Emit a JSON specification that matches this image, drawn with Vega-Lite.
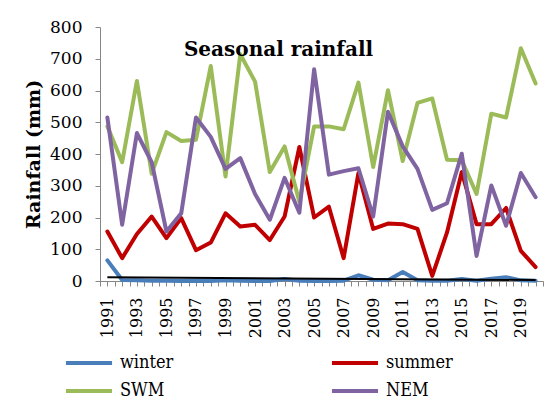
{
  "$schema": "https://vega.github.io/schema/vega-lite/v6.json",
  "width": 443,
  "height": 254,
  "autosize": {"type": "none"},
  "padding": {"left": 100, "top": 27, "right": 7, "bottom": 131},
  "background": "white",
  "config": {"view": {"stroke": null}, "font": "DejaVu Serif"},
  "title": {
    "text": "Seasonal rainfall",
    "font": "DejaVu Serif",
    "fontSize": 20,
    "fontWeight": "bold",
    "color": "black",
    "anchor": "middle",
    "frame": "group",
    "baseline": "alphabetic",
    "offset": 0,
    "dx": -43,
    "dy": 58
  },
  "encoding": {
    "x": {
      "field": "year",
      "type": "quantitative",
      "scale": {"domain": [1990.5, 2020.5], "nice": false, "zero": false},
      "axis": {
        "values": [1990.5, 1991, 1991.5, 1992, 1992.5, 1993, 1993.5, 1994, 1994.5, 1995, 1995.5, 1996, 1996.5, 1997, 1997.5, 1998, 1998.5, 1999, 1999.5, 2000, 2000.5, 2001, 2001.5, 2002, 2002.5, 2003, 2003.5, 2004, 2004.5, 2005, 2005.5, 2006, 2006.5, 2007, 2007.5, 2008, 2008.5, 2009, 2009.5, 2010, 2010.5, 2011, 2011.5, 2012, 2012.5, 2013, 2013.5, 2014, 2014.5, 2015, 2015.5, 2016, 2016.5, 2017, 2017.5, 2018, 2018.5, 2019, 2019.5, 2020, 2020.5],
        "labelExpr": "datum.value % 2 == 1 ? '' + datum.value : ''",
        "labelAngle": -90,
        "labelFont": "DejaVu Serif",
        "labelFontSize": 16,
        "labelColor": "black",
        "labelPadding": 11,
        "labelOverlap": false,
        "labelFlush": false,
        "labelBound": false,
        "tickSize": 5,
        "tickColor": "#868686",
        "domainColor": "#868686",
        "grid": false,
        "title": null
      }
    },
    "y": {
      "field": "rain",
      "type": "quantitative",
      "scale": {"domain": [0, 800], "nice": false},
      "axis": {
        "values": [0, 100, 200, 300, 400, 500, 600, 700, 800],
        "labelFont": "DejaVu Serif",
        "labelFontSize": 17,
        "labelColor": "black",
        "labelPadding": 13,
        "tickSize": 5,
        "tickColor": "#868686",
        "domainColor": "#868686",
        "grid": false,
        "title": "Rainfall (mm)",
        "titleFont": "DejaVu Serif",
        "titleFontSize": 19,
        "titleFontWeight": "bold",
        "titleColor": "black",
        "titlePadding": 6
      }
    }
  },
  "layer": [
    {
      "data": {
        "values": [
          {"year": 1991, "season": "winter", "rain": 65}, {"year": 1992, "season": "winter", "rain": 3}, {"year": 1993, "season": "winter", "rain": 2}, {"year": 1994, "season": "winter", "rain": 1}, {"year": 1995, "season": "winter", "rain": 1}, {"year": 1996, "season": "winter", "rain": 0}, {"year": 1997, "season": "winter", "rain": 1}, {"year": 1998, "season": "winter", "rain": 0}, {"year": 1999, "season": "winter", "rain": 2}, {"year": 2000, "season": "winter", "rain": 1}, {"year": 2001, "season": "winter", "rain": 0}, {"year": 2002, "season": "winter", "rain": 0}, {"year": 2003, "season": "winter", "rain": 6}, {"year": 2004, "season": "winter", "rain": 1}, {"year": 2005, "season": "winter", "rain": 0}, {"year": 2006, "season": "winter", "rain": 0}, {"year": 2007, "season": "winter", "rain": 1}, {"year": 2008, "season": "winter", "rain": 18}, {"year": 2009, "season": "winter", "rain": 4}, {"year": 2010, "season": "winter", "rain": 2}, {"year": 2011, "season": "winter", "rain": 28}, {"year": 2012, "season": "winter", "rain": 2}, {"year": 2013, "season": "winter", "rain": 1}, {"year": 2014, "season": "winter", "rain": 1}, {"year": 2015, "season": "winter", "rain": 6}, {"year": 2016, "season": "winter", "rain": 1}, {"year": 2017, "season": "winter", "rain": 7}, {"year": 2018, "season": "winter", "rain": 12}, {"year": 2019, "season": "winter", "rain": 2}, {"year": 2020, "season": "winter", "rain": 1},
          {"year": 1991, "season": "summer", "rain": 156}, {"year": 1992, "season": "summer", "rain": 72}, {"year": 1993, "season": "summer", "rain": 148}, {"year": 1994, "season": "summer", "rain": 203}, {"year": 1995, "season": "summer", "rain": 135}, {"year": 1996, "season": "summer", "rain": 198}, {"year": 1997, "season": "summer", "rain": 97}, {"year": 1998, "season": "summer", "rain": 121}, {"year": 1999, "season": "summer", "rain": 213}, {"year": 2000, "season": "summer", "rain": 172}, {"year": 2001, "season": "summer", "rain": 177}, {"year": 2002, "season": "summer", "rain": 129}, {"year": 2003, "season": "summer", "rain": 203}, {"year": 2004, "season": "summer", "rain": 422}, {"year": 2005, "season": "summer", "rain": 200}, {"year": 2006, "season": "summer", "rain": 234}, {"year": 2007, "season": "summer", "rain": 72}, {"year": 2008, "season": "summer", "rain": 340}, {"year": 2009, "season": "summer", "rain": 164}, {"year": 2010, "season": "summer", "rain": 181}, {"year": 2011, "season": "summer", "rain": 179}, {"year": 2012, "season": "summer", "rain": 164}, {"year": 2013, "season": "summer", "rain": 16}, {"year": 2014, "season": "summer", "rain": 153}, {"year": 2015, "season": "summer", "rain": 343}, {"year": 2016, "season": "summer", "rain": 179}, {"year": 2017, "season": "summer", "rain": 179}, {"year": 2018, "season": "summer", "rain": 230}, {"year": 2019, "season": "summer", "rain": 95}, {"year": 2020, "season": "summer", "rain": 44},
          {"year": 1991, "season": "SWM", "rain": 487}, {"year": 1992, "season": "SWM", "rain": 374}, {"year": 1993, "season": "SWM", "rain": 630}, {"year": 1994, "season": "SWM", "rain": 338}, {"year": 1995, "season": "SWM", "rain": 469}, {"year": 1996, "season": "SWM", "rain": 441}, {"year": 1997, "season": "SWM", "rain": 445}, {"year": 1998, "season": "SWM", "rain": 677}, {"year": 1999, "season": "SWM", "rain": 329}, {"year": 2000, "season": "SWM", "rain": 714}, {"year": 2001, "season": "SWM", "rain": 628}, {"year": 2002, "season": "SWM", "rain": 343}, {"year": 2003, "season": "SWM", "rain": 424}, {"year": 2004, "season": "SWM", "rain": 250}, {"year": 2005, "season": "SWM", "rain": 487}, {"year": 2006, "season": "SWM", "rain": 487}, {"year": 2007, "season": "SWM", "rain": 478}, {"year": 2008, "season": "SWM", "rain": 625}, {"year": 2009, "season": "SWM", "rain": 359}, {"year": 2010, "season": "SWM", "rain": 601}, {"year": 2011, "season": "SWM", "rain": 378}, {"year": 2012, "season": "SWM", "rain": 561}, {"year": 2013, "season": "SWM", "rain": 575}, {"year": 2014, "season": "SWM", "rain": 382}, {"year": 2015, "season": "SWM", "rain": 380}, {"year": 2016, "season": "SWM", "rain": 274}, {"year": 2017, "season": "SWM", "rain": 527}, {"year": 2018, "season": "SWM", "rain": 515}, {"year": 2019, "season": "SWM", "rain": 733}, {"year": 2020, "season": "SWM", "rain": 622},
          {"year": 1991, "season": "NEM", "rain": 515}, {"year": 1992, "season": "NEM", "rain": 177}, {"year": 1993, "season": "NEM", "rain": 466}, {"year": 1994, "season": "NEM", "rain": 374}, {"year": 1995, "season": "NEM", "rain": 156}, {"year": 1996, "season": "NEM", "rain": 213}, {"year": 1997, "season": "NEM", "rain": 515}, {"year": 1998, "season": "NEM", "rain": 454}, {"year": 1999, "season": "NEM", "rain": 353}, {"year": 2000, "season": "NEM", "rain": 387}, {"year": 2001, "season": "NEM", "rain": 274}, {"year": 2002, "season": "NEM", "rain": 193}, {"year": 2003, "season": "NEM", "rain": 325}, {"year": 2004, "season": "NEM", "rain": 215}, {"year": 2005, "season": "NEM", "rain": 667}, {"year": 2006, "season": "NEM", "rain": 335}, {"year": 2007, "season": "NEM", "rain": 346}, {"year": 2008, "season": "NEM", "rain": 355}, {"year": 2009, "season": "NEM", "rain": 203}, {"year": 2010, "season": "NEM", "rain": 533}, {"year": 2011, "season": "NEM", "rain": 424}, {"year": 2012, "season": "NEM", "rain": 353}, {"year": 2013, "season": "NEM", "rain": 224}, {"year": 2014, "season": "NEM", "rain": 245}, {"year": 2015, "season": "NEM", "rain": 401}, {"year": 2016, "season": "NEM", "rain": 79}, {"year": 2017, "season": "NEM", "rain": 301}, {"year": 2018, "season": "NEM", "rain": 174}, {"year": 2019, "season": "NEM", "rain": 340}, {"year": 2020, "season": "NEM", "rain": 264}
        ]
      },
      "mark": {"type": "line", "strokeWidth": 4, "strokeJoin": "round", "strokeCap": "round"},
      "encoding": {
        "color": {
          "field": "season",
          "type": "nominal",
          "scale": {"domain": ["winter", "summer", "SWM", "NEM"], "range": ["#4A7EBB", "#C00000", "#9BBB59", "#8064A2"]},
          "legend": {
            "orient": "none",
            "direction": "horizontal",
            "legendX": -20,
            "legendY": 327,
            "columns": 2,
            "columnPadding": 149,
            "rowPadding": 10,
            "symbolType": "M-5,0H5",
            "symbolSize": 85,
            "symbolStrokeWidth": 4,
            "labelFont": "DejaVu Serif Condensed",
            "labelFontSize": 18,
            "labelColor": "black",
            "labelOffset": 22,
            "title": null
          }
        }
      }
    },
    {
      "data": {"values": [{"year": 1991, "rain": 12}, {"year": 2020, "rain": 3}]},
      "mark": {"type": "line", "strokeWidth": 2, "color": "black"}
    }
  ]
}
